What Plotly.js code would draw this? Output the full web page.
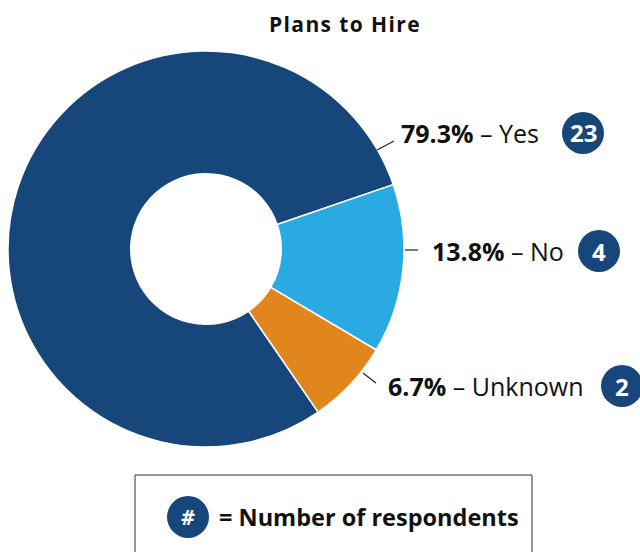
<!DOCTYPE html>
<html>
<head>
<meta charset="utf-8">
<script src="https://cdn.plot.ly/plotly-3.0.1.min.js"></script>
<style>
html,body{margin:0;padding:0;background:#fff;}
#chart{width:640px;height:552px;}
#chart .gtitle{letter-spacing:1.4px;}
</style>
</head>
<body>
<div id="chart"></div>
<script>
var labels = ["Yes", "No", "Unknown"];
var values = [23, 4, 2];
var pctLabels = ["79.3%", "13.8%", "6.7%"];
var counts = ["23", "4", "2"];
var colors = ["#17467A", "#29AAE2", "#E1861C"];

var W = 640, H = 552;
function px(x){ return x / W; }
function py(y){ return 1 - y / H; }
var FONT = "'Open Sans', sans-serif";
var NAVY = "#17467A";

// label positions (pixels)
var labelPos = [
  {tx: 401, ty: 133, cx: 583, line: [377,150,394,141]},
  {tx: 432, ty: 251, cx: 599, line: [405,250,418,250]},
  {tx: 388, ty: 386, cx: 622, line: [363,373,376,383]}
];

var annotations = [];
var shapes = [];
labels.forEach(function(l, i){
  var p = labelPos[i];
  annotations.push({
    xref: "paper", yref: "paper", x: px(p.tx - 2), y: py(p.ty),
    xanchor: "left", yanchor: "middle", showarrow: false,
    text: "<b>" + pctLabels[i] + "</b> – " + l,
    font: {family: FONT, size: 25, color: "#111"}
  });
  shapes.push({type: "circle", xref: "paper", yref: "paper",
    x0: px(p.cx - 21), x1: px(p.cx + 21), y0: py(p.ty + 21), y1: py(p.ty - 21),
    fillcolor: NAVY, line: {width: 0}});
  annotations.push({
    xref: "paper", yref: "paper", x: px(p.cx), y: py(p.ty),
    xanchor: "center", yanchor: "middle", showarrow: false,
    text: "<b>" + counts[i] + "</b>",
    font: {family: FONT, size: 24, color: "#fff"}
  });
  shapes.push({type: "line", xref: "paper", yref: "paper",
    x0: px(p.line[0]), y0: py(p.line[1]), x1: px(p.line[2]), y1: py(p.line[3]),
    line: {color: "#222", width: 1.2}});
});

// legend box
shapes.push({type: "rect", xref: "paper", yref: "paper",
  x0: px(135), x1: px(532), y0: py(560), y1: py(475),
  line: {color: "#333", width: 1}, fillcolor: "rgba(0,0,0,0)"});
shapes.push({type: "circle", xref: "paper", yref: "paper",
  x0: px(167), x1: px(209), y0: py(538), y1: py(496),
  fillcolor: NAVY, line: {width: 0}});
annotations.push({xref: "paper", yref: "paper", x: px(188), y: py(517),
  xanchor: "center", yanchor: "middle", showarrow: false,
  text: "<b><i>#</i></b>", font: {family: FONT, size: 21, color: "#fff"}});
annotations.push({xref: "paper", yref: "paper", x: px(217), y: py(517),
  xanchor: "left", yanchor: "middle", showarrow: false,
  text: "<b>= Number of respondents</b>", font: {family: FONT, size: 23.5, color: "#111"}});

var trace = {
  type: "pie",
  labels: labels,
  values: values,
  hole: 0.38,
  sort: false,
  direction: "clockwise",
  rotation: 145.5,
  marker: {colors: colors, line: {color: "#fff", width: 1.5}},
  textinfo: "none",
  hoverinfo: "label+value",
  domain: {x: [px(8), px(404)], y: [py(447), py(51)]},
  showlegend: false
};

var layout = {
  width: W, height: H,
  margin: {l: 0, r: 0, t: 0, b: 0},
  paper_bgcolor: "#fff",
  title: {text: "<b>Plans to Hire</b>", x: px(345), xanchor: "center", y: py(25), yanchor: "middle",
    font: {family: FONT, size: 21, color: "#111"}},
  showlegend: false,
  annotations: annotations,
  shapes: shapes
};

Plotly.newPlot("chart", [trace], layout, {displayModeBar: false, staticPlot: true});
</script>
</body>
</html>
